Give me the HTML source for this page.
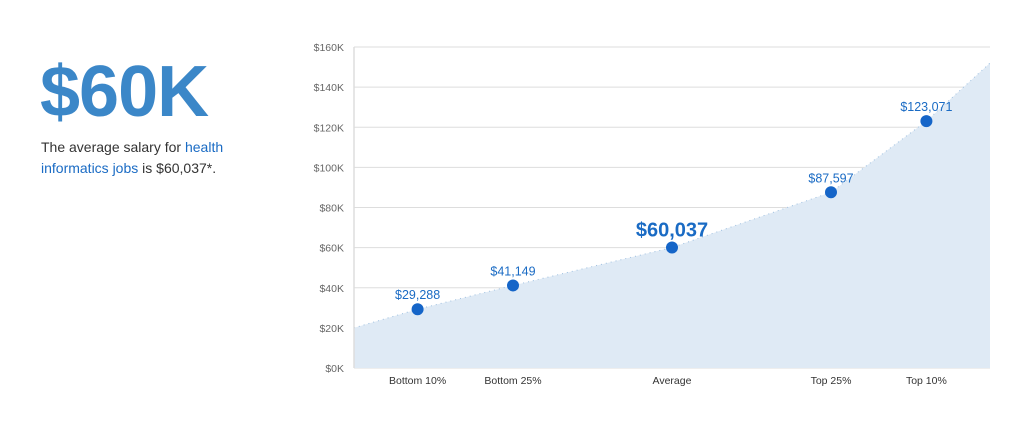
<!DOCTYPE html>
<html><head><meta charset="utf-8"><style>
body{margin:0;width:1024px;height:426px;background:#fff;font-family:"Liberation Sans",Arial,sans-serif;overflow:hidden;position:relative}
#big{position:absolute;left:40px;top:52px;font-size:72px;font-weight:bold;color:#3b87c8;letter-spacing:-1px;line-height:80px}
#desc{position:absolute;left:41px;top:137px;font-size:14px;line-height:21px;color:#333;width:220px}
#desc a{color:#1a6bc4;text-decoration:none}
svg{position:absolute;left:0;top:0}
</style></head><body>
<div id="big">$60K</div>
<div id="desc">The average salary for <a href="#">health informatics jobs</a> is $60,037*.</div>
<svg id="chart" width="1024" height="426"></svg>
<script>
const categories=["Bottom 10%","Bottom 25%","Average","Top 25%","Top 10%"];
const values=[29288,41149,60037,87597,123071];
const labels=["$29,288","$41,149","$60,037","$87,597","$123,071"];
const catX=[0.1,0.25,0.5,0.75,0.9];
const areaStart=20000, areaEnd=152000;
const ticks=[0,20000,40000,60000,80000,100000,120000,140000,160000];
const tickLabels=["$0K","$20K","$40K","$60K","$80K","$100K","$120K","$140K","$160K"];
const L=354,R=990,T=47,B=368;
const y=v=>B-(v/160000)*(B-T);
const x=f=>L+f*(R-L);
const NS="http://www.w3.org/2000/svg",svg=document.getElementById('chart');
function mk(t,a,txt){const e=document.createElementNS(NS,t);for(const k in a)e.setAttribute(k,a[k]);if(txt!=null)e.textContent=txt;svg.appendChild(e);return e;}
ticks.forEach((t,i)=>{
 const g=mk('line',{x1:L,x2:R,y1:y(t),y2:y(t),stroke:'#ddd','stroke-width':1});
 
 const tl=mk('text',{x:344,y:y(t)+4,'text-anchor':'end','font-size':10.5,fill:'#666'},tickLabels[i]);
 
});
const pts=[[L,y(areaStart)]].concat(values.map((v,i)=>[x(catX[i]),y(v)])).concat([[R,y(areaEnd)]]);
const ps=pts.map(p=>p.join(',')).join(' ');
const area=mk('polygon',{points:ps+` ${R},${B} ${L},${B}`,fill:'#dfeaf5'});

const line=mk('polyline',{points:ps,fill:'none',stroke:'#9fc0e0','stroke-width':1,'stroke-dasharray':'1,4'});

const ax=mk('line',{x1:L,x2:L,y1:T,y2:B,stroke:'#ddd','stroke-width':1.5});

values.forEach((v,i)=>{
 const cx=x(catX[i]),cy=y(v);
 const c=mk('circle',{cx:cx,cy:cy,r:6,fill:'#1565c8'});
 
 const big=i===2;
 const t=mk('text',{x:cx,y:cy-(big?11:10),'text-anchor':'middle','font-size':big?20:12.5,'font-weight':big?'bold':'normal',fill:'#1a6bc4'},labels[i]);
 
 const xl=mk('text',{x:cx,y:384,'text-anchor':'middle','font-size':10.5,fill:'#333'},categories[i]);
 
});
</script>
</body></html>
